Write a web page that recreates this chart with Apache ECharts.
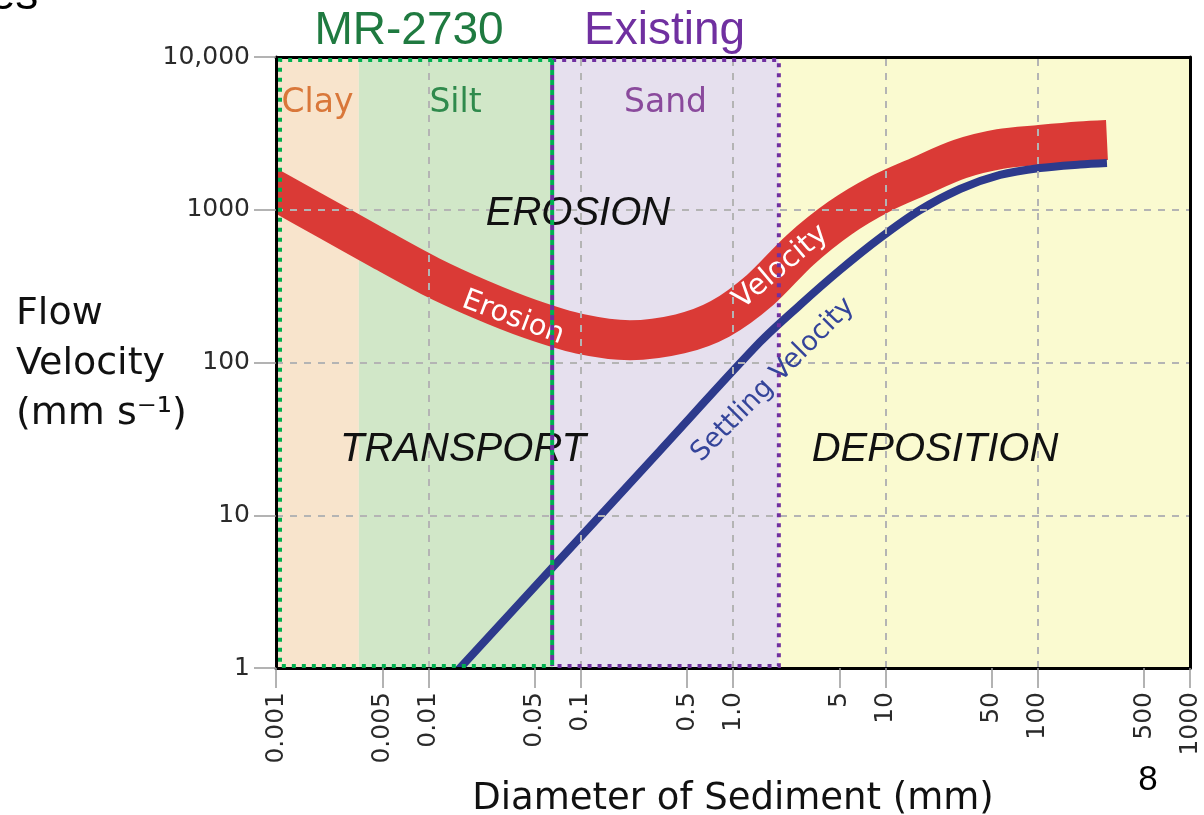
<!DOCTYPE html>
<html>
<head>
<meta charset="utf-8">
<script src="https://cdn.jsdelivr.net/npm/echarts@6/dist/echarts.min.js"></script>
<style>
  html, body { margin: 0; padding: 0; background: #ffffff; }
  #chart { width: 1204px; height: 815px; }
</style>
</head>
<body>
<div id="chart"></div>
<script>
// ---- Axis ticks (diameter in mm, velocity in mm/s) ----
const diameterTicks = [0.001, 0.005, 0.01, 0.05, 0.1, 0.5, 1.0, 5, 10, 50, 100, 500, 1000];
const diameterTickLabels = ['0.001', '0.005', '0.01', '0.05', '0.1', '0.5', '1.0', '5', '10', '50', '100', '500', '1000'];
const velocityTicks = [1, 10, 100, 1000, 10000];
const velocityTickLabels = ['1', '10', '100', '1000', '10,000'];
const gridDiameters = [0.01, 0.1, 1, 10, 100];
const gridVelocities = [10, 100, 1000];

// ---- Sediment classes and their diameter ranges (mm) ----
const sedimentClasses = ['Clay', 'Silt', 'Sand', ''];
const classRanges = [[0.001, 0.0035], [0.0035, 0.065], [0.065, 2], [2, 1000]];

// ---- Sample ranges outlined with dotted boxes ----
const studyNames = ['MR-2730', 'Existing'];
const studyRanges = [[0.001, 0.065], [0.065, 2]];

// ---- Erosion velocity curve (centre of the band) ----
const erosionDiameters = [0.000785, 0.001, 0.00226, 0.00482, 0.01026, 0.02183, 0.04651, 0.099, 0.2108, 0.4488, 0.822, 1.504, 2.754, 5.04, 9.23, 16.9, 30.9, 56.6, 103.6, 189.7, 285];
const erosionVelocities = [1520, 1327, 844, 553, 368, 260, 193, 154, 140, 154, 193, 298, 545, 883, 1268, 1663, 2149, 2498, 2654, 2798, 2862];

// ---- Settling velocity curve ----
const settlingDiameters = [0.01026, 0.01614, 0.0732, 0.3317, 1.504, 2.754, 5.04, 9.23, 16.9, 30.9, 56.6, 103.6, 189.7, 285];
const settlingVelocities = [0.61, 1, 5.15, 26.5, 136, 238, 403, 653, 996, 1367, 1689, 1877, 1979, 2024];

// ---- Styling ----
const classColors = ['#F8E4CC', '#D1E7C8', '#E6E0EE', '#FAFAD0'];
const classLabelColors = ['#D9773A', '#2F8A4C', '#8A4A9C'];
const studyColors = ['#00B050', '#7030A0'];
const studyTextColors = ['#1F7A40', '#7030A0'];
const SANS = '"DejaVu Sans", "Noto Sans", sans-serif';
const ARIAL = '"Liberation Sans", Arial, sans-serif';

const lg = Math.log10;

function tickLabel(values, labels, v) {
  const i = values.findIndex(t => Math.abs(t - v) < 1e-6);
  return i < 0 ? '' : labels[i];
}

// Thick curve drawn as one smooth polyline through the axis scales
function curveSeries(name, ds, vs, color, width, z) {
  return {
    type: 'custom',
    name: name,
    z: z,
    clip: true,
    silent: true,
    data: ds.map((d, i) => [lg(d), vs[i]]),
    renderItem: function (params, api) {
      if (params.dataIndex !== 0) return null;
      const pts = ds.map((d, i) => api.coord([lg(d), vs[i]]));
      return {
        type: 'polyline',
        shape: { points: pts, smooth: 0.3 },
        style: { fill: null, stroke: color, lineWidth: width, lineCap: 'butt', lineJoin: 'round' }
      };
    }
  };
}

const chart = echarts.init(document.getElementById('chart'), null, { renderer: 'canvas' });

const option = {
  animation: false,
  backgroundColor: '#ffffff',
  grid: { left: 276, right: 14, top: 57, bottom: 147, containLabel: false, outerBoundsMode: 'none' },
  xAxis: [
    {
      type: 'value', position: 'bottom', min: -3, max: 3, z: 5,
      name: 'Diameter of Sediment (mm)', nameLocation: 'middle', nameGap: 113, nameMoveOverlap: false,
      nameTextStyle: { fontSize: 37, fontFamily: SANS, color: '#111' },
      axisLine: { show: true, onZero: false, lineStyle: { color: '#000', width: 3 } },
      axisTick: { show: true, length: 20, customValues: diameterTicks.map(lg), lineStyle: { color: '#9a9a9a', width: 1.5 } },
      axisLabel: {
        show: true, rotate: 90, margin: 24, hideOverlap: false,
        customValues: diameterTicks.map(lg),
        fontSize: 25, fontFamily: SANS, color: '#2a2a2a',
        formatter: v => tickLabel(diameterTicks.map(lg), diameterTickLabels, v)
      },
      splitLine: { show: false }
    },
    {
      type: 'value', position: 'top', min: -3, max: 3, z: 5,
      axisLine: { show: true, onZero: false, lineStyle: { color: '#000', width: 3 } },
      axisTick: { show: false }, axisLabel: { show: false }, splitLine: { show: false }
    }
  ],
  yAxis: [
    {
      type: 'log', logBase: 10, position: 'left', min: 1, max: 10000, z: 5,
      axisLine: { show: true, onZero: false, lineStyle: { color: '#000', width: 3 } },
      axisTick: { show: true, length: 22, lineStyle: { color: '#9a9a9a', width: 1.5 } },
      axisLabel: {
        show: true, margin: 26, fontSize: 25, fontFamily: SANS, color: '#2a2a2a',
        formatter: v => tickLabel(velocityTicks.map(lg), velocityTickLabels, lg(v))
      },
      splitLine: { show: false },
      minorTick: { show: false }
    },
    {
      type: 'log', logBase: 10, position: 'right', min: 1, max: 10000, z: 5,
      axisLine: { show: true, onZero: false, lineStyle: { color: '#000', width: 3 } },
      axisTick: { show: false }, axisLabel: { show: false }, splitLine: { show: false }
    }
  ],
  series: [
    {
      // coloured sediment-class bands
      type: 'line', name: 'classes', data: [], z: 1, silent: true,
      markArea: {
        silent: true,
        data: classRanges.map((r, i) => [
          {
            name: sedimentClasses[i], xAxis: lg(r[0]),
            itemStyle: { color: classColors[i] },
            label: { show: !!sedimentClasses[i], color: classLabelColors[i] || '#000' }
          },
          { xAxis: lg(r[1]) }
        ]),
        label: { position: 'insideTop', distance: 30, fontSize: 33, fontFamily: SANS }
      }
    },
    {
      // dashed decade grid
      type: 'line', name: 'grid', data: [], z: 2, silent: true,
      markLine: {
        silent: true, symbol: ['none', 'none'],
        label: { show: false },
        lineStyle: { color: '#b4b4b4', width: 2, type: [7, 7] },
        data: gridDiameters.map(d => ({ xAxis: lg(d) })).concat(gridVelocities.map(v => ({ yAxis: v })))
      }
    },
    curveSeries('Erosion Velocity', erosionDiameters, erosionVelocities, '#DA3A36', 40, 3),
    curveSeries('Settling Velocity', settlingDiameters, settlingVelocities, '#2D3A8C', 8, 4)
  ]
};

chart.setOption(option);

// ---- Annotations positioned through the axis scales ----
const px = v => chart.convertToPixel({ xAxisIndex: 0 }, lg(v));
const py = v => chart.convertToPixel({ yAxisIndex: 0 }, v);
const yTop = py(10000) + 3;
const yBot = py(1) - 2;

function text(t, x, y, font, fill, rotation) {
  return {
    type: 'text', x: x, y: y, rotation: rotation || 0, z: 30, silent: true,
    style: { text: t, font: font, fill: fill, align: 'center', verticalAlign: 'middle', textAlign: 'center', textVerticalAlign: 'middle' }
  };
}

const graphics = [];

// dotted boxes for the two sample ranges
const gx0 = px(studyRanges[0][0]) + 4, gx1 = px(studyRanges[0][1]);
const ux0 = px(studyRanges[1][0]), ux1 = px(studyRanges[1][1]);
const dotted = (pts, color, offset, dash) => ({
  type: 'polyline', z: 40, silent: true,
  shape: { points: pts },
  style: { fill: null, stroke: color, lineWidth: 4, lineDash: dash || [4, 6], lineDashOffset: offset || 0, lineCap: 'butt' }
});
graphics.push(dotted([[gx1, yTop], [gx0, yTop], [gx0, yBot], [gx1, yBot]], studyColors[0]));
graphics.push(dotted([[ux0, yTop], [ux1, yTop], [ux1, yBot], [ux0, yBot]], studyColors[1]));
graphics.push(dotted([[gx1, yTop], [gx1, yBot]], studyColors[0], 0, [5, 5]));
graphics.push(dotted([[ux0, yTop], [ux0, yBot]], studyColors[1], 5, [5, 5]));

// range titles
graphics.push(text(studyNames[0], (gx0 + gx1) / 2 - 7, 31, '46px ' + ARIAL, studyTextColors[0]));
graphics.push(text(studyNames[1], (ux0 + ux1) / 2 - 1, 31, '46px ' + ARIAL, studyTextColors[1]));

// process regions
graphics.push(text('EROSION', 578, 214, 'italic 40px ' + ARIAL, '#111'));
graphics.push(text('TRANSPORT', 463, 450, 'italic 40px ' + ARIAL, '#111'));
graphics.push(text('DEPOSITION', 935, 450, 'italic 40px ' + ARIAL, '#111'));

// curve captions
graphics.push(text('Erosion', 513, 318, '29px ' + SANS, '#ffffff', -0.36));
graphics.push(text('Velocity', 781, 267, '29px ' + SANS, '#ffffff', 0.7));
graphics.push(text('Settling Velocity', 773, 380, '27px ' + SANS, '#34449A', 0.79));

// y axis title
graphics.push({
  type: 'text', x: 16, y: 364, z: 30, silent: true,
  style: {
    text: 'Flow\nVelocity\n(mm s\u207B\u00B9)', font: '38px ' + SANS, fill: '#111', lineHeight: 50,
    align: 'left', verticalAlign: 'middle', textAlign: 'left', textVerticalAlign: 'middle'
  }
});

// slide furniture
graphics.push(text('8', 1148, 780, '35px ' + ARIAL, '#000'));
graphics.push(text('es', 14, -4, '46px ' + ARIAL, '#000'));

chart.setOption({ graphic: graphics });
</script>
</body>
</html>
